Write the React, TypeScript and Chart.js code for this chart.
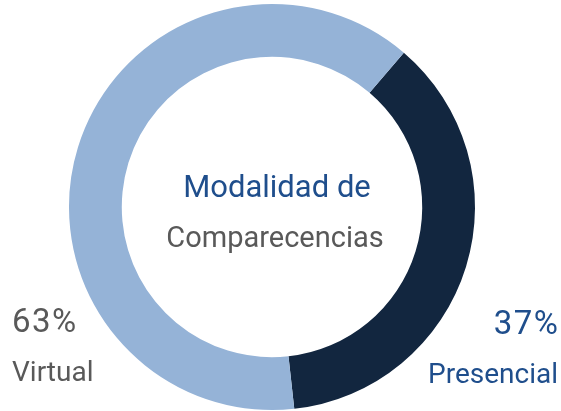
import React, { useEffect, useRef } from "react";
import { Chart, registerables } from "chart.js";

Chart.register(...registerables);

const categories = ["Presencial", "Virtual"];
const values = [37, 63];
const colors = ["#12263F", "#95B3D7"];
const percentLabels = ["37%", "63%"];
const titleLines = ["Modalidad de", "Comparecencias"];

const FONT = "Roboto, 'Noto Sans', sans-serif";
const BLUE = "#1F4E8C";
const GREY = "#595959";

const textPlugin = {
  id: "textPlugin",
  afterDraw(chart: any) {
    const ctx = chart.ctx as any;
    ctx.save();
    ctx.textBaseline = "alphabetic";
    // center title
    ctx.textAlign = "center";
    ctx.font = `31px ${FONT}`;
    ctx.fillStyle = BLUE;
    ctx.fillText(titleLines[0], 277, 197);
    ctx.fillStyle = GREY;
    ctx.font = `29px ${FONT}`;
    ctx.fillText(titleLines[1], 275, 247);
    // left label (Virtual)
    ctx.textAlign = "left";
    ctx.fillStyle = GREY;
    ctx.font = `33px ${FONT}`;
    ctx.letterSpacing = "1.5px";
    ctx.fillText(percentLabels[1], 12, 332);
    ctx.letterSpacing = "0px";
    ctx.font = `28px ${FONT}`;
    ctx.fillText(categories[1], 12, 381);
    // right label (Presencial)
    ctx.textAlign = "right";
    ctx.fillStyle = BLUE;
    ctx.font = `33px ${FONT}`;
    ctx.letterSpacing = "1.5px";
    ctx.fillText(percentLabels[0], 559.5, 334);
    ctx.letterSpacing = "0px";
    ctx.font = `28px ${FONT}`;
    ctx.fillText(categories[0], 558, 383);
    ctx.restore();
  },
};

export default function App() {
  const ref = useRef<HTMLCanvasElement | null>(null);
  useEffect(() => {
    if (!ref.current) return;
    const chart = new Chart(ref.current, {
      type: "doughnut",
      data: {
        labels: categories,
        datasets: [
          {
            data: values,
            backgroundColor: colors,
            borderWidth: 0,
          },
        ],
      },
      options: {
        animation: false,
        responsive: false,
        maintainAspectRatio: false,
        cutout: "74%",
        rotation: 40.5,
        layout: { padding: { left: 0, right: 17, top: 4, bottom: 1 } },
        plugins: {
          legend: { display: false },
          tooltip: { enabled: false },
        },
      },
      plugins: [textPlugin],
    });
    return () => chart.destroy();
  }, []);
  return (
    <div style={{ position: "absolute", left: 0, top: 0, width: 561, height: 411, background: "#fff" }}>
      <canvas ref={ref} width={561} height={411} style={{ width: 561, height: 411 }} />
    </div>
  );
}
